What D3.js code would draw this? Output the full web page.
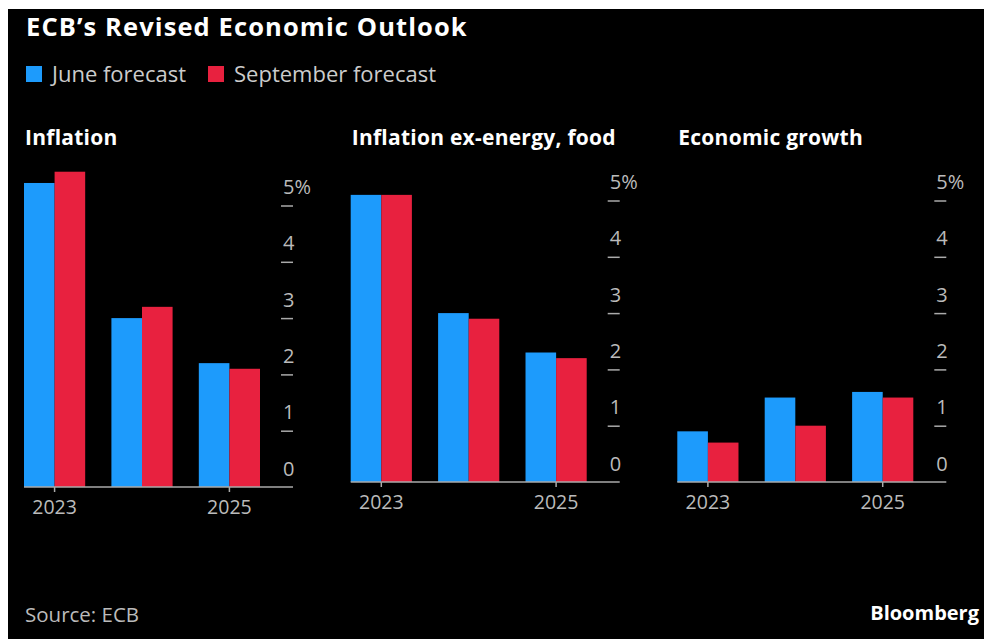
<!DOCTYPE html>
<html>
<head>
<meta charset="utf-8">
<script src="https://cdn.jsdelivr.net/npm/d3@7"></script>
<style>
  body { margin: 0; background: #fff; }
  text { font-family: "Open Sans", "Noto Sans", sans-serif; }
</style>
</head>
<body>
<script>
// data
const years = ["2023", "2024", "2025"];
const series = ["June forecast", "September forecast"];
const seriesColors = ["#1d9bfc", "#e8213f"];
const panelTitles = ["Inflation", "Inflation ex-energy, food", "Economic growth"];
const juneValues = [[5.4, 3.0, 2.2], [5.1, 3.0, 2.3], [0.9, 1.5, 1.6]];
const septValues = [[5.6, 3.2, 2.1], [5.1, 2.9, 2.2], [0.7, 1.0, 1.5]];
const yTicks = [0, 1, 2, 3, 4, 5];
const xTickLabels = ["2023", "2025"];

let width = 984,
    height = 639,
    svg = d3.select('body').append('svg')
        .attr('width', width)
        .attr('height', height)

// black card with the thin white edge of the screenshot
svg.append('rect')
    .attr('x', 8).attr('y', 9)
    .attr('width', width - 8).attr('height', height - 9)
    .attr('fill', '#000')

// title + legend
svg.append('text')
    .attr('x', 26).attr('y', 36)
    .attr('fill', '#fff')
    .attr('font-size', 25.5)
    .attr('font-weight', 700)
    .attr('letter-spacing', 1.1)
    .text('ECB\u2019s Revised Economic Outlook')

var legendX = [26, 208]
var legend = svg.selectAll('.legend')
    .data(series)
    .enter()
    .append('g')
    .attr('class', 'legend')
    .attr('transform', (d, i) => 'translate(' + legendX[i] + ',66)')

legend.append('rect')
    .attr('width', 16)
    .attr('height', 16)
    .attr('fill', (d, i) => seriesColors[i])

legend.append('text')
    .attr('x', 26)
    .attr('y', 15.5)
    .attr('fill', '#ccc')
    .attr('font-size', 22)
    .text(d => d)

// panels
var panelLeft = [24, 350.7, 677.3],
    panelBase = [487, 482, 482],   //<-- first panel sits a few px lower in the original
    panelW = 269,
    innerH = 300,
    unit = 56.3

var y = d3.scaleLinear()
    .domain([0, 5])
    .range([innerH, innerH - 5 * unit])

var x0 = d3.scaleBand()
    .domain(years)
    .range([0, 236])
    .paddingInner(0.3)
    .paddingOuter(0)

var x1 = d3.scaleBand()
    .domain(series)
    .range([0, x0.bandwidth()])

panelTitles.forEach((title, p) => {
    var g = svg.append('g')
        .attr('transform', 'translate(' + panelLeft[p] + ',' + (panelBase[p] - innerH) + ')')

    svg.append('text')
        .attr('x', panelLeft[p] + 1)
        .attr('y', 145)
        .attr('fill', '#fff')
        .attr('font-size', 21)
        .attr('font-weight', 700)
        .attr('letter-spacing', 0.25)
        .text(title)

    var rows = years.map((yr, i) => ({
        year: yr,
        vals: [juneValues[p][i], septValues[p][i]]
    }))

    // bars
    var grp = g.selectAll('.grp').data(rows).enter()
        .append('g')
        .attr('transform', d => 'translate(' + x0(d.year) + ',0)')

    grp.selectAll('rect')
        .data(d => d.vals.map((v, i) => ({ s: series[i], v: v, i: i })))
        .enter()
        .append('rect')
        .attr('x', d => x1(d.s))
        .attr('y', d => y(d.v))
        .attr('width', x1.bandwidth())
        .attr('height', d => y(0) - y(d.v))
        .attr('fill', d => seriesColors[d.i])

    // y axis on the right, labels sit above their tick
    var yAxisG = g.append('g')
        .attr('transform', 'translate(' + (panelW - 12) + ',0)')
        .call(d3.axisRight(y)
            .tickValues(yTicks)
            .tickSize(12)
            .tickFormat(d => d === 5 ? '5%' : d))
        .call(g => g.select('.domain').remove())

    yAxisG.selectAll('.tick line')
        .attr('stroke', '#aaa')
        .attr('stroke-width', 1.5)
        .filter(d => d === 0).remove()

    yAxisG.selectAll('.tick text')
        .attr('x', 2)
        .attr('dy', -12)
        .attr('fill', '#bbb')
        .attr('font-size', 20)
        .attr('text-anchor', 'start')

    // x axis
    var xAxisG = g.append('g')
        .attr('transform', 'translate(0,' + innerH + ')')
        .call(d3.axisBottom(x0)
            .tickValues(xTickLabels)
            .tickSize(5)
            .tickPadding(8))
        .call(g => g.select('.domain').remove())

    xAxisG.selectAll('.tick line')
        .attr('stroke', '#aaa')
        .attr('stroke-width', 1.5)

    xAxisG.selectAll('.tick text')
        .attr('fill', '#bbb')
        .attr('font-size', 19.5)

    g.append('line')
        .attr('x1', 0).attr('x2', panelW)
        .attr('y1', innerH).attr('y2', innerH)
        .attr('stroke', '#aaa')
        .attr('stroke-width', 1.5)
})

// footer
svg.append('text')
    .attr('x', 25).attr('y', 622)
    .attr('fill', '#bbb')
    .attr('font-size', 20.5)
    .text('Source: ECB')

svg.append('text')
    .attr('x', 979).attr('y', 620)
    .attr('text-anchor', 'end')
    .attr('fill', '#fff')
    .attr('font-size', 20)
    .attr('font-weight', 700)
    .text('Bloomberg')
</script>
</body>
</html>
